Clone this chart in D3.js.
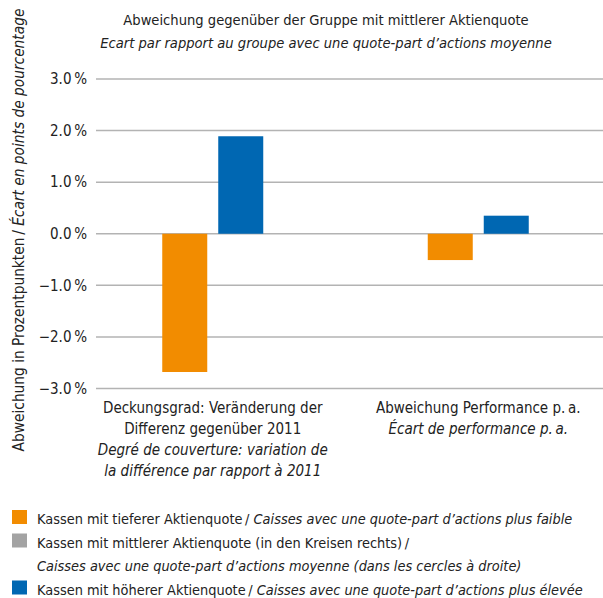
<!DOCTYPE html>
<html>
<head>
<meta charset="utf-8">
<script src="https://cdn.jsdelivr.net/npm/d3@7"></script>
<style>
  body { margin: 0; background: #fff; }
  svg text { font-family: "Liberation Sans Narrow", "DejaVu Sans Condensed", sans-serif; fill: #222; }
</style>
</head>
<body>
<script>
// categories (two-line german / two-line french)
var categories = ["coverage", "performance"];
var categoryLabels = [
  ["Deckungsgrad: Veränderung der", "Differenz gegenüber 2011", "Degré de couverture: variation de", "la différence par rapport à 2011"],
  ["Abweichung Performance p.\u2009a.", "Écart de performance p.\u2009a."]
];
var categoryItalicFrom = [2, 1];

// series values (deviation from middle group, percentage points)
var seriesKeys = ["low", "high"];
var lowValues = [-2.68, -0.51];
var highValues = [1.89, 0.35];

var yTicks = [-3, -2, -1, 0, 1, 2, 3];

var legendItems = [
  { color: "#f28c00", de: "Kassen mit tieferer Aktienquote\u2009/ ", fr: "Caisses avec une quote-part d\u2019actions plus faible" },
  { color: "#a3a3a3", de: "Kassen mit mittlerer Aktienquote (in den Kreisen rechts)\u2009/", fr: "" },
  { color: null, de: "", fr: "Caisses avec une quote-part d\u2019actions moyenne (dans les cercles à droite)" },
  { color: "#0067b2", de: "Kassen mit höherer Aktienquote\u2009/ ", fr: "Caisses avec une quote-part d\u2019actions plus élevée" }
];

var colors = { low: "#f28c00", high: "#0067b2" };

var width = 603, height = 598;
var svg = d3.select("body").append("svg")
  .attr("width", width)
  .attr("height", height);

var y = d3.scaleLinear().domain([-3, 3]).range([388.5, 79]);
var x = d3.scaleBand().domain(categories).range([80, 611]);
var xInner = d3.scaleBand().domain(seriesKeys).range([-50.5, 50.5]).paddingInner(11 / 56);

// gridlines
svg.append("g").selectAll("line").data(yTicks).enter().append("line")
  .attr("x1", 96).attr("x2", 603)
  .attr("y1", function(d) { return y(d); })
  .attr("y2", function(d) { return y(d); })
  .attr("stroke", "#b3b3b3")
  .attr("stroke-width", 1.5);

// tick labels
svg.append("g").selectAll("text").data(yTicks).enter().append("text")
  .attr("x", 87)
  .attr("y", function(d) { return y(d); })
  .attr("dy", "0.35em")
  .attr("text-anchor", "end")
  .attr("font-size", 15)
  .text(function(d) { return (d < 0 ? "\u2212" : "") + Math.abs(d).toFixed(1) + "\u2009%"; });

// bars
var rows = categories.map(function(c, i) {
  return { cat: c, low: lowValues[i], high: highValues[i] };
});
var groups = svg.append("g").selectAll("g").data(rows).enter().append("g")
  .attr("transform", function(d) { return "translate(" + (x(d.cat) + x.bandwidth() / 2) + ",0)"; });
groups.selectAll("rect")
  .data(function(d) { return seriesKeys.map(function(k) { return { key: k, value: d[k] }; }); })
  .enter().append("rect")
  .attr("x", function(d) { return xInner(d.key); })
  .attr("width", xInner.bandwidth())
  .attr("y", function(d) { return y(Math.max(0, d.value)); })
  .attr("height", function(d) { return Math.abs(y(d.value) - y(0)); })
  .attr("fill", function(d) { return colors[d.key]; });

// category labels
categories.forEach(function(c, i) {
  var t = svg.append("text")
    .attr("text-anchor", "middle")
    .attr("font-size", 15);
  categoryLabels[i].forEach(function(line, j) {
    t.append("tspan")
      .attr("x", x(c) + x.bandwidth() / 2)
      .attr("y", 413 + j * 21)
      .attr("font-style", j >= categoryItalicFrom[i] ? "italic" : "normal")
      .text(line);
  });
});

// title
svg.append("text").attr("x", 326).attr("y", 25).attr("text-anchor", "middle")
  .attr("font-size", 14.6)
  .text("Abweichung gegenüber der Gruppe mit mittlerer Aktienquote");
svg.append("text").attr("x", 326).attr("y", 48).attr("text-anchor", "middle")
  .attr("font-size", 14.6).attr("font-style", "italic")
  .text("Ecart par rapport au groupe avec une quote-part d\u2019actions moyenne");

// y axis title
var yt = svg.append("text")
  .attr("transform", "translate(24,230) rotate(-90)")
  .attr("text-anchor", "middle")
  .attr("font-size", 15.3);
yt.append("tspan").text("Abweichung in Prozentpunkten\u2009/ ");
yt.append("tspan").attr("font-style", "italic").text("Écart en points de pourcentage");

// legend
var lg = svg.append("g").selectAll("g").data(legendItems).enter().append("g")
  .attr("transform", function(d, i) { return "translate(0," + (510 + i * 23.5) + ")"; });
lg.filter(function(d) { return d.color; }).append("rect")
  .attr("x", 12).attr("y", 0).attr("width", 15).attr("height", 14)
  .attr("fill", function(d) { return d.color; });
var lt = lg.append("text").attr("x", 37).attr("y", 14).attr("font-size", 14.4);
lt.append("tspan").text(function(d) { return d.de; });
lt.append("tspan").attr("font-style", "italic").text(function(d) { return d.fr; });
</script>
</body>
</html>
